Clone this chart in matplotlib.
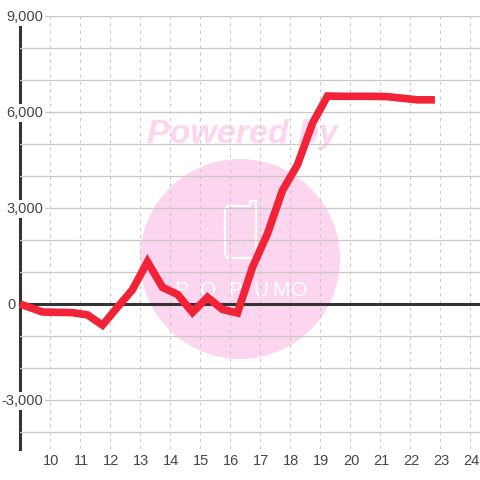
import matplotlib
matplotlib.use('Agg')
import matplotlib.pyplot as plt
from matplotlib.patches import Circle
from matplotlib.transforms import ScaledTranslation

plt.rcParams['font.family'] = ['Liberation Sans', 'DejaVu Sans']

# half hourly values
hours = [9.0, 9.75, 10.25, 10.75, 11.25, 11.75, 12.25, 12.75, 13.25, 13.75, 14.25, 14.75,
         15.25, 15.75, 16.25, 16.75, 17.25, 17.75, 18.25, 18.75, 19.25, 19.75, 20.25,
         20.75, 21.25, 21.75, 22.25, 22.83]
values = [0, -250, -260, -270, -340, -660, -100, 450, 1320, 520, 300, -260,
          210, -170, -280, 1150, 2200, 3550, 4350, 5650, 6500, 6490, 6490,
          6490, 6480, 6430, 6380, 6380]
x_ticks = list(range(10, 25))
y_ticks = [-4000, -3000, -2000, -1000, 0, 1000, 2000, 3000, 4000, 5000, 6000, 7000, 8000, 9000]
y_labels = {-3000: '-3,000', 0: '0', 3000: '3,000', 6000: '6,000', 9000: '9,000'}

W, H = 480, 480
PINK = '#fcd5ee'
fig = plt.figure(figsize=(W / 100, H / 100), dpi=100)

# watermark sits behind the chart, placed in pixels
bg = fig.add_axes([0, 0, 1, 1], zorder=0)
bg.set_xlim(0, W)
bg.set_ylim(H, 0)
bg.axis('off')
bg.add_patch(Circle((240, 259), 100, facecolor=PINK, edgecolor='none'))
bg.text(242, 135, 'Powered by', color=PINK, fontsize=24.5, weight='bold', style='italic',
        ha='center', va='center')
bg.plot([228, 250, 250, 256, 256, 253, 228, 225, 225, 228],
        [206, 206, 201, 201, 255, 258, 258, 255, 209, 206],
        color='white', linewidth=1.6, solid_joinstyle='round')
for letter, px in zip('POPUMO', [181, 208, 235, 261, 281, 299]):
    bg.text(px, 291, letter, color='white', fontsize=15, ha='center', va='center')

ax = fig.add_axes([20 / W, (H - 449) / H, 460 / W, 433 / H], zorder=1)
ax.patch.set_visible(False)
ax.set_xlim(9, 24 + 1 / 3)
ax.set_ylim(-4531, 9000)
for side in ['top', 'right', 'bottom']:
    ax.spines[side].set_visible(False)
ax.spines['left'].set_color('#333333')
ax.spines['left'].set_linewidth(2.2)
ax.spines['left'].set_zorder(2)

ax.set_axisbelow(False)
ax.set_xticks(x_ticks)
ax.set_yticks(y_ticks)
ax.set_yticklabels([])
ax.tick_params(axis='both', length=0)
ax.tick_params(axis='x', labelsize=10.5, labelcolor='#444444', pad=3.5)
ax.grid(axis='y', color='#c8c8c8', linewidth=0.9)
ax.grid(axis='x', color='#c8c8c8', linewidth=0.75, linestyle=(0, (3, 4)))

# nudge x labels one pixel right
nudge = ScaledTranslation(1 / 100, 0, fig.dpi_scale_trans)
for label in ax.get_xticklabels():
    label.set_transform(label.get_transform() + nudge)

ax.axhline(0, color='#333333', linewidth=2.2, zorder=3)
ax.plot(hours, values, color='#f22237', linewidth=5.5, zorder=5, solid_joinstyle='miter',
        solid_capstyle='butt', clip_on=False)

# y labels sit on the inner side of the axis line, with a white plate
for val, label in y_labels.items():
    offset = -4 if val == 0 else 23
    ax.annotate(label, (9, val), xytext=(offset, -1), textcoords='offset pixels',
                ha='right', va='center', fontsize=10.5, color='#444444', zorder=4,
                annotation_clip=False,
                bbox=dict(facecolor='white', edgecolor='none', pad=1.5))

fig.savefig('out.png', dpi=100)
